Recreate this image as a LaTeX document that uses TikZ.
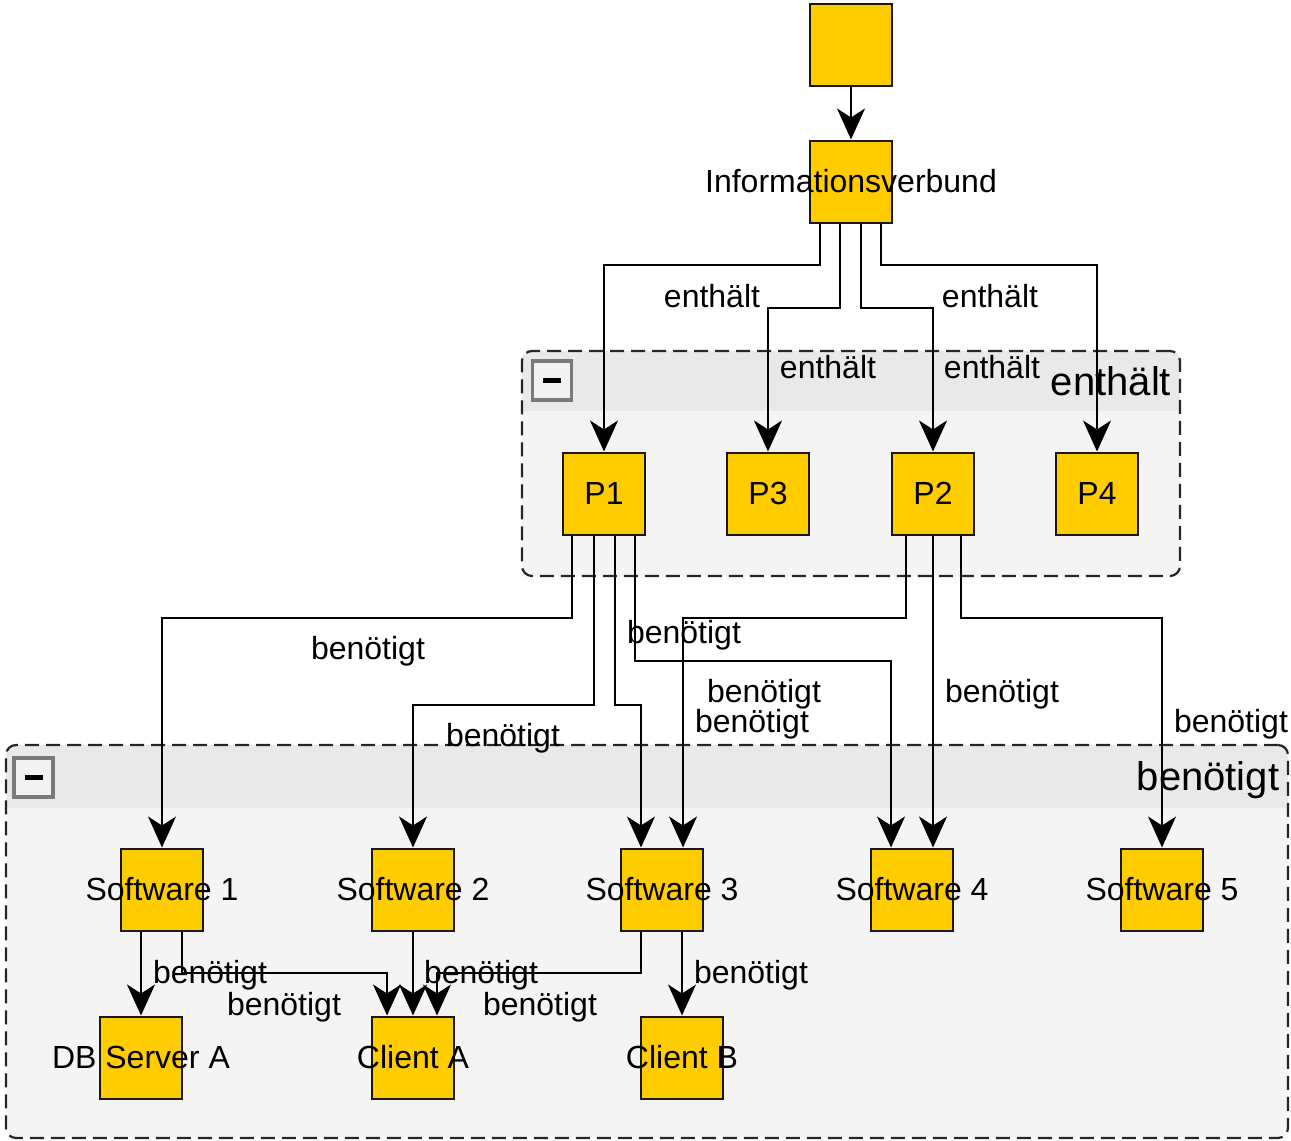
\documentclass[tikz,border=0pt]{standalone}
\usepackage{fontspec}
\setmainfont{Liberation Sans}
\usetikzlibrary{arrows.meta}
\definecolor{boxfill}{HTML}{FFCC00}
\definecolor{headfill}{HTML}{E9E9E9}
\definecolor{bodyfill}{HTML}{F4F4F4}
\definecolor{btnline}{HTML}{7A7A7A}

\begin{document}
\begin{tikzpicture}[x=0.5pt,y=-0.5pt,
    font=\fontsize{16}{19}\selectfont,
    box/.style={draw=black!90, fill=boxfill, line width=1pt, minimum size=41pt, inner sep=0pt},
    link/.style={draw, line width=1pt, -{Stealth[length=15.5pt,width=14pt,inset=4.5pt]}},
    group/.style={draw=black!85, dash pattern=on 7pt off 3.5pt, line width=1.1pt,
        rounded corners=5pt, fill=bodyfill, inner sep=0pt,
        path picture={\fill[headfill, sharp corners] (path picture bounding box.north west)
            rectangle ([yshift=-#1]path picture bounding box.north east);}},
    btn/.style={draw=btnline, line width=1.6pt, fill=headfill!60!white, minimum size=19.5pt, inner sep=0pt,
        path picture={\fill[black] ([xshift=-4.5pt,yshift=-1.3pt]path picture bounding box.center)
            rectangle ++(9pt,2.6pt);}},
    lbl/.style={anchor=base, inner sep=0pt},
    biglbl/.style={lbl, font=\fontsize{20}{24}\selectfont}]
    \useasboundingbox (0,0) rectangle (1291,1141);

    % containers
    \node[group=30pt, minimum width=329pt, minimum height=112.5pt] (gP) at (851,463.5) {};
    \node[group=31.5pt, minimum width=641pt, minimum height=196.5pt] (gS) at (647,941.5) {};
    \node[btn] (bP) at (552,380.5) {};
    \node[btn] (bS) at (33.5,777.5) {};
    \node[biglbl] (tP) at (1111,395) {enthält};
    \node[biglbl] (tS) at (1208,790) {benötigt};

    % boxes
    \node[box] (top) at (851,45) {};
    \node[box, label=center:Informationsverbund] (IV) at (851,181.5) {};
    \node[box] (P1) at (604,493.5) {P1};
    \node[box] (P3) at (768,493.5) {P3};
    \node[box] (P2) at (933,493.5) {P2};
    \node[box] (P4) at (1097,493.5) {P4};
    \node[box, label=center:{Software 1}] (S1) at (162,889.5) {};
    \node[box, label=center:{Software 2}] (S2) at (413,889.5) {};
    \node[box, label=center:{Software 3}] (S3) at (662,889.5) {};
    \node[box, label=center:{Software 4}] (S4) at (912,889.5) {};
    \node[box, label=center:{Software 5}] (S5) at (1162,889.5) {};
    \node[box, label=center:{DB Server A}] (DB) at (141,1057.5) {};
    \node[box, label=center:{Client A}] (CA) at (413,1057.5) {};
    \node[box, label=center:{Client B}] (CB) at (682,1057.5) {};

    % enthält
    \draw[link] (top) -- (IV);
    \draw[link] (IV.south -| 820,0) -- (820,265) -| (P1);
    \draw[link] (IV.south -| 840,0) -- (840,308) -| (P3);
    \draw[link] (IV.south -| 861,0) -- (861,308) -| (P2);
    \draw[link] (IV.south -| 881,0) -- (881,265) -| (P4);

    % benötigt
    \draw[link] (P1.south -| 572,0) -- (572,618) -| (S1);
    \draw[link] (P1.south -| 594,0) -- (594,705) -| (S2);
    \draw[link] (P1.south -| 615,0) -- (615,705) -| (S3.north -| 641,0);
    \draw[link] (P1.south -| 635,0) -- (635,661) -| (S4.north -| 891,0);
    \draw[link] (P2.south -| 906,0) -- (906,618) -| (S3.north -| 683,0);
    \draw[link] (P2.south) -- (P2.south |- S4.north);
    \draw[link] (P2.south -| 961,0) -- (961,618) -| (S5);
    \draw[link] (S1.south -| DB.north) -- (DB.north);
    \draw[link] (S1.south -| 182,0) -- (182,973) -| (CA.north -| 387,0);
    \draw[link] (S2) -- (CA);
    \draw[link] (S3.south -| 641,0) -- (641,973) -| (CA.north -| 437,0);
    \draw[link] (S3.south -| CB.north) -- (CB.north);

    % labels
    \node[lbl] (e1) at (712,307) {enthält};
    \node[lbl] (e2) at (990,307) {enthält};
    \node[lbl] (e3) at (828,378) {enthält};
    \node[lbl] (e4) at (992,378) {enthält};
    \node[lbl] (b1) at (368,659) {benötigt};
    \node[lbl] (b2) at (684,643) {benötigt};
    \node[lbl] (b3) at (503,746) {benötigt};
    \node[lbl] (b4) at (764,702) {benötigt};
    \node[lbl] (b5) at (752,732) {benötigt};
    \node[lbl] (b6) at (1002,702) {benötigt};
    \node[lbl] (b7) at (1231,732) {benötigt};
    \node[lbl] (b8) at (210,983) {benötigt};
    \node[lbl] (b9) at (284,1015) {benötigt};
    \node[lbl] (b10) at (481,983) {benötigt};
    \node[lbl] (b11) at (540,1015) {benötigt};
    \node[lbl] (b12) at (751,983) {benötigt};
\end{tikzpicture}
\end{document}
